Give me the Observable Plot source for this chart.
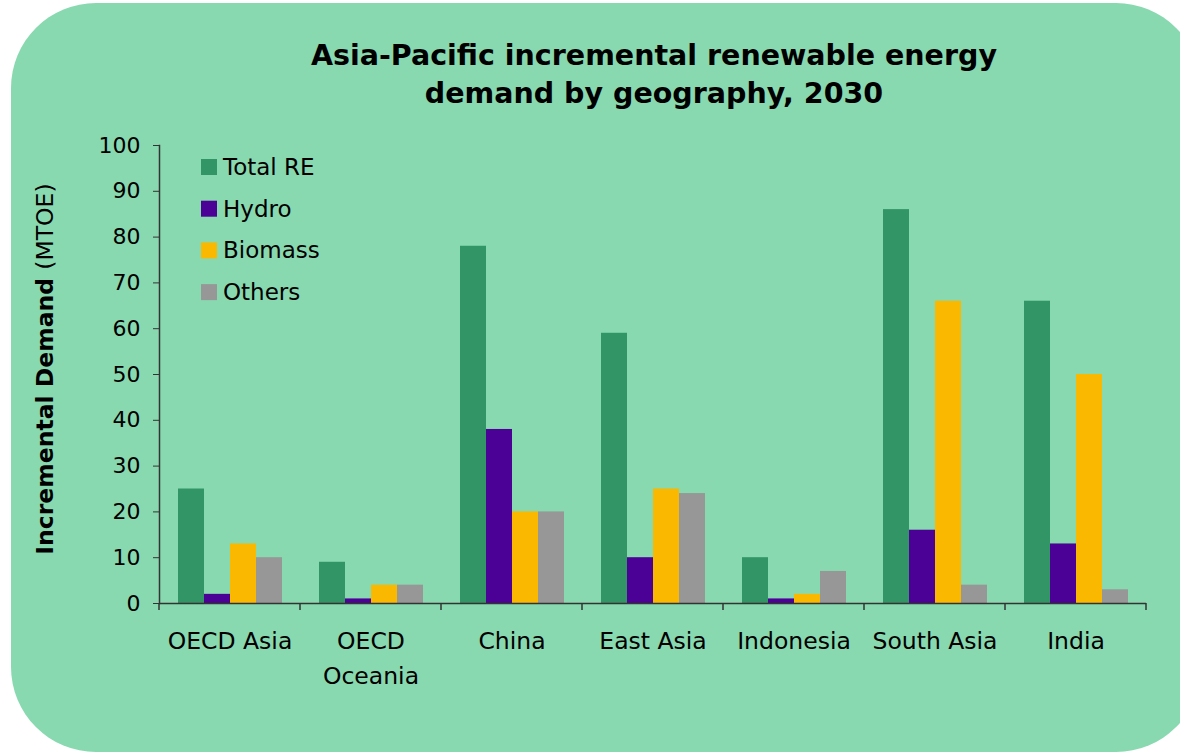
<!DOCTYPE html>
<html>
<head>
<meta charset="utf-8">
<script src="https://cdn.jsdelivr.net/npm/d3@7"></script>
<script src="https://cdn.jsdelivr.net/npm/@observablehq/plot@0.6"></script>
<style>
  html, body { margin: 0; padding: 0; background: #fff; }
  #wrap { position: relative; width: 1180px; height: 753px; overflow: hidden; background: #fff; }
  #bg { position: absolute; left: 11px; top: 3px; width: 1190px; height: 749px; border-radius: 85px; background: #88d9b0; }
  #title { position: absolute; left: 154px; width: 1000px; top: 37px; text-align: center;
           font-family: "DejaVu Sans", sans-serif; font-weight: bold; font-size: 28.5px; line-height: 38px; color: #000; }
  #chart { position: absolute; left: 0; top: 120px; }
</style>
</head>
<body>
<div id="wrap">
  <div id="bg"></div>
  <div id="title">Asia-Pacific incremental renewable energy<br>demand by geography, 2030</div>
  <div id="chart"></div>
</div>
<script>
const categories = ["OECD Asia", "OECD\nOceania", "China", "East Asia", "Indonesia", "South Asia", "India"];
const series = ["Total RE", "Hydro", "Biomass", "Others"];
const totalRE = [25, 9, 78, 59, 10, 86, 66];
const hydro   = [2, 1, 38, 10, 1, 16, 13];
const biomass = [13, 4, 20, 25, 2, 66, 50];
const others  = [10, 4, 20, 24, 7, 4, 3];
const yTicks = [0, 10, 20, 30, 40, 50, 60, 70, 80, 90, 100];
const colors = ["#319566", "#4b0096", "#fbb800", "#979797"];

const seriesValues = [totalRE, hydro, biomass, others];
const data = categories.flatMap((c, i) => series.map((s, j) => ({category: c, series: s, value: seriesValues[j][i]})));

const W = 1180, H = 633;
const plot = Plot.plot({
  width: W, height: H,
  marginLeft: 157, marginRight: 32, marginTop: 25, marginBottom: 150,
  style: {background: "transparent", fontFamily: "DejaVu Sans, sans-serif", fontSize: "22px", color: "#000", overflow: "visible"},
  fx: {domain: categories, padding: 0, label: null, axis: null},
  x: {domain: series, paddingInner: 0, paddingOuter: 0.68, axis: null},
  y: {domain: [0, 100], label: null},
  color: {domain: series, range: colors},
  marks: [
    Plot.barY(data, {fx: "category", x: "series", y: "value", fill: "series"}),
    Plot.ruleY([0], {stroke: "#333", strokeWidth: 1.5}),
    Plot.frame({anchor: "left", facetAnchor: "left", stroke: "#333", strokeWidth: 1.5}),
    Plot.axisY({ticks: yTicks, tickSize: 6, tickPadding: 13, fontSize: 22, label: null, stroke: "#333"}),
    Plot.axisFx({anchor: "bottom", tickSize: 0, tickPadding: 21, lineHeight: 1.48, fontSize: 23.5, label: null})
  ]
});
document.getElementById("chart").appendChild(plot);

// boundary ticks on the category axis
const svg = d3.select(plot.tagName.toLowerCase() === "svg" ? plot : plot.querySelector("svg"));
const fx = plot.scale("fx");
const y = plot.scale("y");
const y0 = y.apply(0);
const bounds = categories.map(c => fx.apply(c)).concat([fx.apply(categories[categories.length - 1]) + fx.step]);
svg.append("g").selectAll("line").data(bounds).join("line")
  .attr("x1", d => d).attr("x2", d => d)
  .attr("y1", y0).attr("y2", y0 + 7)
  .attr("stroke", "#333").attr("stroke-width", 1.5);

// legend
const lg = svg.append("g").attr("font-family", "DejaVu Sans, sans-serif").attr("font-size", 23).attr("text-anchor", "start");
series.forEach((s, i) => {
  const cy = 47 + i * 41.7;
  lg.append("rect").attr("x", 201).attr("y", cy - 8).attr("width", 16).attr("height", 16).attr("fill", colors[i]);
  lg.append("text").attr("x", 223).attr("y", cy).attr("dy", "0.35em").attr("text-anchor", "start").text(s);
});

// y axis title with mixed weight
const yt = svg.append("text")
  .attr("transform", "translate(45,249) rotate(-90)")
  .attr("text-anchor", "middle").attr("dominant-baseline", "central")
  .attr("font-family", "DejaVu Sans, sans-serif").attr("font-size", 23.5);
yt.append("tspan").attr("font-weight", "bold").text("Incremental Demand ");
yt.append("tspan").text("(MTOE)");
</script>
</body>
</html>
